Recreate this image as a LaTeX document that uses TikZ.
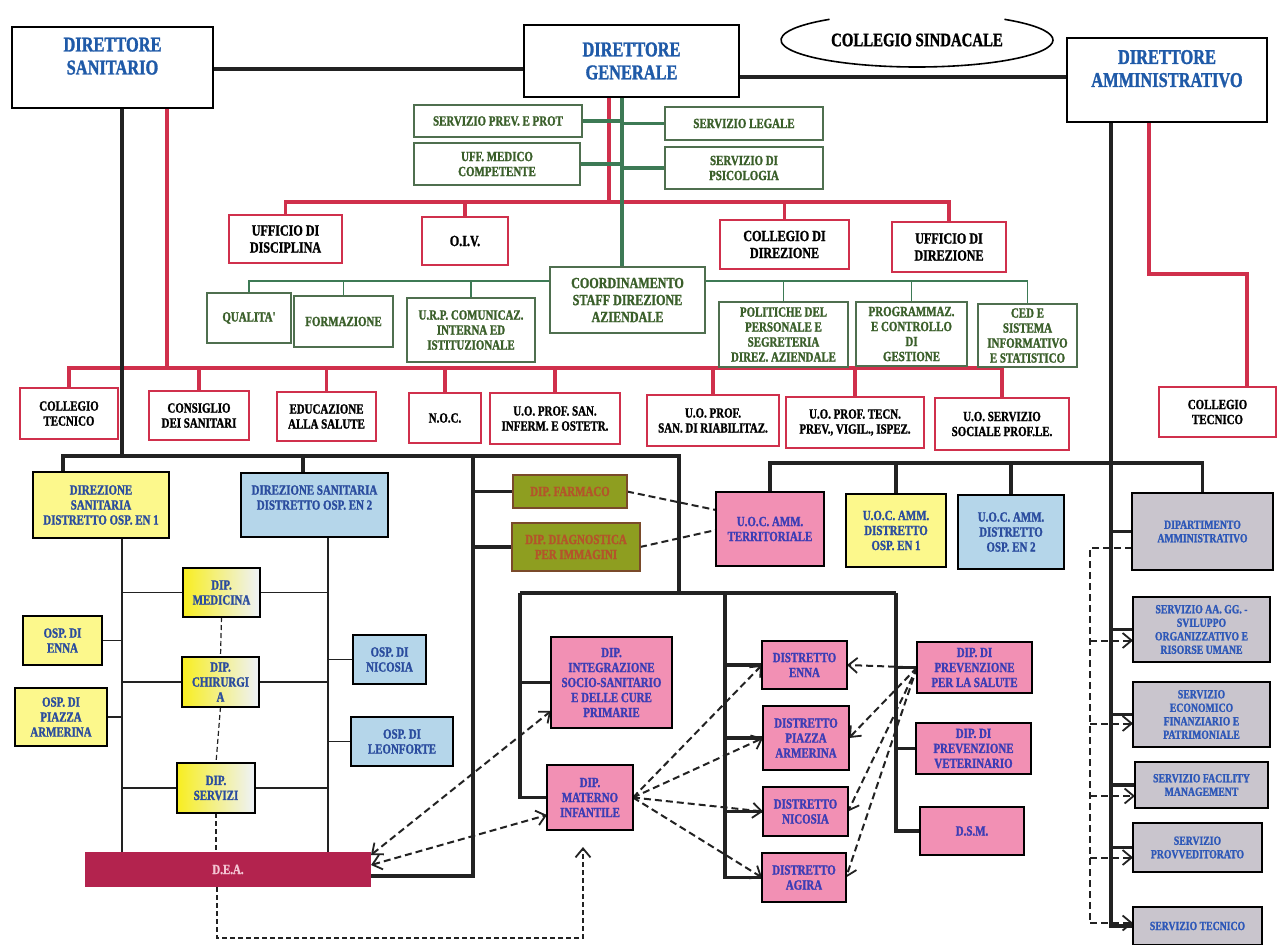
\documentclass[tikz,border=0pt]{standalone}
\usepackage{fontspec}
\setmainfont{Liberation Serif}
\newfontfamily\bff{Liberation Serif Bold}[FakeStretch=0.78,FakeBold=1.4]
\usetikzlibrary{arrows.meta,backgrounds}
\definecolor{dblue}{HTML}{1F5AA8}
\definecolor{rline}{HTML}{D0304C}
\definecolor{gline}{HTML}{3D7A55}
\definecolor{gtext}{HTML}{3A5F2A}
\definecolor{gbord}{HTML}{4F6F4F}
\definecolor{cyel}{HTML}{FCF88C}
\definecolor{clblue}{HTML}{B5D6EA}
\definecolor{cpink}{HTML}{F290B4}
\definecolor{ptext}{HTML}{3B3DB5}
\definecolor{colive}{HTML}{8E9E20}
\definecolor{otext}{HTML}{B4542A}
\definecolor{cbrown}{HTML}{7A4A2A}
\definecolor{cgrey}{HTML}{C9C5CD}
\definecolor{gtextb}{HTML}{2E58B8}
\definecolor{btext}{HTML}{2A4C9E}
\definecolor{cdea}{HTML}{B3234E}
\definecolor{deatext}{HTML}{F4C6D4}
\definecolor{bline}{HTML}{222222}
\definecolor{gyel}{HTML}{F8EE20}
\definecolor{gwhite}{HTML}{EEF2FA}
\newcommand\fsA{\bff\fontsize{21}{23}\selectfont}
\newcommand\fsB{\bff\fontsize{19}{21}\selectfont}
\newcommand\fsC{\bff\fontsize{15.5}{17}\selectfont}
\newcommand\fsD{\bff\fontsize{14}{15}\selectfont}
\newcommand\fsE{\bff\fontsize{12.5}{13.5}\selectfont}
\newcommand\bx[7]{\node[#2,minimum width={#5-#3},minimum height={#6-#4}] (#1) at ({(#3+#5)/2},{(#4+#6)/2}) {#7};}
\tikzset{
 bxbase/.style={draw, line width=1.1pt, inner sep=1pt, outer sep=0pt, align=center, fill=white, font=\fsD},
 dirb/.style={bxbase, draw=black, line width=1.8pt, text=dblue, font=\fsA},
 grb/.style={bxbase, draw=gbord, text=gtext},
 grbig/.style={grb, font=\fsC},
 rdb/.style={bxbase, draw=rline, text=black},
 rdbig/.style={rdb, font=\fsC},
 yeb/.style={bxbase, draw=black, fill=cyel, text=btext},
 lbb/.style={bxbase, draw=black, fill=clblue, text=btext},
 gdb/.style={bxbase, draw=black, left color=gyel, right color=gwhite, text=btext},
 pkb/.style={bxbase, draw=black, fill=cpink, text=ptext},
 olb/.style={bxbase, draw=cbrown, fill=colive, text=otext},
 gyb/.style={bxbase, draw=black, fill=cgrey, text=gtextb, font=\fsE},
 deab/.style={bxbase, draw=none, fill=cdea, text=deatext},
 blk/.style={draw=bline, line width=3.5pt},
 blm/.style={draw=bline, line width=2.4pt},
 blt/.style={draw=bline, line width=1.6pt},
 rdl/.style={draw=rline, line width=3.5pt},
 gnl/.style={draw=gline, line width=3.5pt},
 gnt/.style={draw=gline, line width=1.6pt},
 dsh/.style={draw=bline, line width=2pt, dash pattern=on 7pt off 4pt},
 dst/.style={draw=bline, line width=1.2pt, dash pattern=on 5pt off 3pt},
 arr/.style={-{Straight Barb[length=9pt,width=15pt,line width=1.8pt]}},
 arrb/.style={{Straight Barb[length=9pt,width=15pt,line width=1.8pt]}-{Straight Barb[length=9pt,width=15pt,line width=1.8pt]}},
}
\begin{document}
\begin{tikzpicture}[x=1pt,y=-1pt]
\useasboundingbox (0,0) rectangle (1278,945);
% ---------- top level
\bx{ds}{dirb}{12}{27}{213}{108}{DIRETTORE\\SANITARIO\\\mbox{}}
\bx{dg}{dirb}{524}{25}{739}{97}{DIRETTORE\\GENERALE}
\bx{da}{dirb}{1067}{38}{1267}{122}{DIRETTORE\\AMMINISTRATIVO\\\mbox{}}
\node[font=\fsB, inner sep=0pt] (cs) at (917,40) {COLLEGIO SINDACALE};
% ---------- staff of DG
\bx{spp}{grb}{414}{105}{582}{137}{SERVIZIO PREV. E PROT}
\bx{umc}{grb}{414}{143}{580}{185}{UFF. MEDICO\\COMPETENTE}
\bx{sl}{grb}{665}{107}{823}{140}{SERVIZIO LEGALE}
\bx{sp}{grb}{665}{147}{823}{189}{SERVIZIO DI\\PSICOLOGIA}
\bx{udisc}{rdbig}{229}{215}{342}{263}{UFFICIO DI\\DISCIPLINA}
\bx{oiv}{rdbig}{422}{217}{508}{265}{O.I.V.}
\bx{cdir}{rdbig}{720}{220}{849}{269}{COLLEGIO DI\\DIREZIONE}
\bx{udir}{rdbig}{892}{222}{1006}{272}{UFFICIO DI\\DIREZIONE}
\bx{coord}{grbig}{550}{267}{705}{333}{COORDINAMENTO\\STAFF DIREZIONE\\AZIENDALE}
\bx{qual}{grb}{207}{293}{291}{343}{QUALITA'}
\bx{form}{grb}{294}{296}{393}{347}{FORMAZIONE}
\bx{urp}{grb}{407}{298}{535}{362}{U.R.P. COMUNICAZ.\\INTERNA ED\\ISTITUZIONALE}
\bx{pol}{grb}{719}{302}{848}{367}{POLITICHE DEL\\PERSONALE E\\SEGRETERIA\\DIREZ. AZIENDALE}
\bx{prog}{grb}{856}{302}{967}{366}{PROGRAMMAZ.\\E CONTROLLO\\DI\\GESTIONE}
\bx{ced}{grb}{978}{304}{1077}{367}{CED E\\SISTEMA\\INFORMATIVO\\E STATISTICO}
% ---------- red row
\bx{ctl}{rdb}{20}{388}{118}{439}{COLLEGIO\\TECNICO}
\bx{cons}{rdb}{149}{391}{249}{440}{CONSIGLIO\\DEI SANITARI}
\bx{edu}{rdb}{277}{392}{376}{441}{EDUCAZIONE\\ALLA SALUTE}
\bx{noc}{rdb}{409}{393}{481}{443}{N.O.C.}
\bx{uoinf}{rdb}{490}{393}{620}{444}{U.O. PROF. SAN.\\INFERM. E OSTETR.}
\bx{uoriab}{rdb}{647}{395}{779}{446}{U.O. PROF.\\SAN. DI RIABILITAZ.}
\bx{uotec}{rdb}{786}{397}{924}{448}{U.O. PROF. TECN.\\PREV., VIGIL., ISPEZ.}
\bx{uosoc}{rdb}{935}{398}{1069}{450}{U.O. SERVIZIO\\SOCIALE PROF.LE.}
\bx{ctr}{rdb}{1159}{387}{1276}{437}{COLLEGIO\\TECNICO}
% ---------- left section
\bx{dsd1}{yeb}{33}{472}{169}{538}{DIREZIONE\\SANITARIA\\DISTRETTO OSP. EN 1}
\bx{dsd2}{lbb}{241}{473}{388}{537}{DIREZIONE SANITARIA\\DISTRETTO OSP. EN 2\\\mbox{}}
\bx{med}{gdb}{183}{568}{260}{617}{DIP.\\MEDICINA}
\bx{chir}{gdb}{182}{657}{259}{707}{DIP.\\CHIRURGI\\A}
\bx{serv}{gdb}{177}{763}{255}{813}{DIP.\\SERVIZI}
\bx{ospe}{yeb}{23}{616}{102}{665}{OSP. DI\\ENNA}
\bx{ospp}{yeb}{15}{688}{107}{746}{OSP. DI\\PIAZZA\\ARMERINA}
\bx{ospn}{lbb}{353}{635}{426}{684}{OSP. DI\\NICOSIA}
\bx{ospl}{lbb}{351}{717}{453}{766}{OSP. DI\\LEONFORTE}
\bx{dea}{deab}{85}{852}{371}{887}{D.E.A.}
% ---------- middle section
\bx{farm}{olb}{513}{475}{627}{508}{DIP. FARMACO}
\bx{diag}{olb}{512}{523}{640}{571}{DIP. DIAGNOSTICA\\PER IMMAGINI}
\bx{integr}{pkb}{551}{637}{672}{728}{DIP.\\INTEGRAZIONE\\SOCIO-SANITARIO\\E DELLE CURE\\PRIMARIE}
\bx{mat}{pkb}{547}{765}{633}{830}{DIP.\\MATERNO\\INFANTILE}
\bx{den}{pkb}{762}{641}{847}{689}{DISTRETTO\\ENNA}
\bx{dpa}{pkb}{763}{706}{849}{770}{DISTRETTO\\PIAZZA\\ARMERINA}
\bx{dni}{pkb}{763}{787}{848}{836}{DISTRETTO\\NICOSIA}
\bx{dag}{pkb}{762}{853}{846}{902}{DISTRETTO\\AGIRA}
\bx{prev}{pkb}{917}{642}{1032}{693}{DIP. DI\\PREVENZIONE\\PER LA SALUTE}
\bx{vet}{pkb}{916}{723}{1031}{774}{DIP. DI\\PREVENZIONE\\VETERINARIO}
\bx{dsm}{pkb}{920}{807}{1024}{855}{D.S.M.}
% ---------- right section
\bx{uoct}{pkb}{716}{492}{824}{566}{U.O.C. AMM.\\TERRITORIALE}
\bx{en1}{yeb}{846}{494}{946}{567}{U.O.C. AMM.\\DISTRETTO\\OSP. EN 1}
\bx{en2}{lbb}{958}{495}{1064}{569}{U.O.C. AMM.\\DISTRETTO\\OSP. EN 2}
\bx{dipamm}{gyb}{1132}{493}{1273}{570}{DIPARTIMENTO\\AMMINISTRATIVO}
\bx{saagg}{gyb}{1133}{597}{1270}{662}{SERVIZIO AA. GG. -\\SVILUPPO\\ORGANIZZATIVO E\\RISORSE UMANE}
\bx{seco}{gyb}{1133}{682}{1270}{747}{SERVIZIO\\ECONOMICO\\FINANZIARIO E\\PATRIMONIALE}
\bx{sfac}{gyb}{1135}{762}{1268}{808}{SERVIZIO FACILITY\\MANAGEMENT}
\bx{sprov}{gyb}{1133}{823}{1262}{872}{SERVIZIO\\PROVVEDITORATO}
\bx{stec}{gyb}{1133}{907}{1262}{945}{SERVIZIO TECNICO}
% ---------- connectors
\begin{pgfonlayer}{background}
\fill[white] (0,0) rectangle (1278,945);
\coordinate (yl) at (0,69);
\coordinate (yr) at (0,77);
\coordinate (r1) at (609,202);
\coordinate (g1) at (622,0);
\coordinate (gh) at (0,281);
\coordinate (rh) at (0,368);
\coordinate (dsr) at (167,0);
\coordinate (dsb) at (122,0);
\coordinate (dar) at (1149,0);
\coordinate (dab) at (1111,0);
\coordinate (rt) at (1247,274);
\coordinate (bh) at (0,456);
\coordinate (d1x) at (63,0);
\coordinate (d2x) at (303,0);
\coordinate (mx) at (679,593);
\coordinate (vx) at (473,0);
\coordinate (ydea) at (0,876);
\coordinate (lx) at (122,0);
\coordinate (rx) at (328,0);
\coordinate (m1) at (520,593);
\coordinate (m2) at (725,593);
\coordinate (m3) at (896,593);
\coordinate (ah) at (0,463);
\coordinate (ax) at (1090,0);
\coordinate (dxb) at (217,938);
\coordinate (uxb) at (583,938);
\coordinate (uxt) at (583,847);
\coordinate (y548) at (0,548);
\coordinate (ya) at (0,855);
\coordinate (yb) at (0,865);
\coordinate (yc) at (0,711);
\coordinate (yd) at (0,815);
\coordinate (ye) at (0,510);
\coordinate (yf) at (0,530);
% ellipse of collegio sindacale
\draw[line width=1.6pt] (cs.center) ++(310:136 and 27) arc[start angle=310, end angle=590, x radius=136, y radius=27];
% directors line
\draw[blk] (ds.east |- yl) -- (dg.west |- yl);
\draw[blk] (dg.east |- yr) -- (da.west |- yr);
% red from DG
\draw[rdl] (r1 |- dg.south) -- (r1);
\draw[rdl] (udisc.north) -- (udisc.north |- r1) -- (udir.north |- r1) -- (udir.north);
\draw[rdl] (oiv.north) -- (oiv.north |- r1);
\draw[rdl] (cdir.north) -- (cdir.north |- r1);
% green from DG
\draw[gnl] (g1 |- dg.south) -- (g1 |- coord.north);
\draw[gnl] (spp.east) -- (spp.east -| g1);
\draw[gnl] (umc.east) -- (umc.east -| g1);
\draw[gnl] (sl.west) -- (sl.west -| g1);
\draw[gnl] (sp.west) -- (sp.west -| g1);
% staff bus
\draw[gnt] (qual.north) -- (qual.north |- gh) -- (coord.west |- gh);
\draw[gnt] (form.north) -- (form.north |- gh);
\draw[gnt] (urp.north) -- (urp.north |- gh);
\draw[gnt] (coord.east |- gh) -- (ced.north |- gh) -- (ced.north);
\draw[gnt] (pol.north) -- (pol.north |- gh);
\draw[gnt] (prog.north) -- (prog.north |- gh);
% red bus from DS
\draw[rdl] (dsr |- ds.south) -- (dsr |- rh);
\draw[rdl] (ctl.north) -- (ctl.north |- rh) -- (uosoc.north |- rh) -- (uosoc.north);
\draw[rdl] (cons.north) -- (cons.north |- rh);
\draw[rdl] (edu.north) -- (edu.north |- rh);
\draw[rdl] (noc.north) -- (noc.north |- rh);
\draw[rdl] (uoinf.north) -- (uoinf.north |- rh);
\draw[rdl] (uoriab.north) -- (uoriab.north |- rh);
\draw[rdl] (uotec.north) -- (uotec.north |- rh);
% red from DA
\draw[rdl] (dar |- da.south) -- (dar |- rt) -- (rt) -- (rt |- ctr.north);
% black from DS
\draw[blk] (dsb |- ds.south) -- (dsb |- bh);
\draw[blk] (d1x |- dsd1.north) -- (d1x |- bh) -- (mx |- bh) -- (mx);
\draw[blk] (d2x |- dsd2.north) -- (d2x |- bh);
\draw[blk] (vx |- bh) -- (vx |- ydea) -- (dea.east |- ydea);
\draw[blk] (vx |- farm.west) -- (farm.west);
\draw[blk] (vx |- diag.west) -- (diag.west);
% left section
\draw[blm] (lx |- dsd1.south) -- (lx |- dea.north);
\draw[blm] (rx |- dsd2.south) -- (rx |- dea.north);
\draw[blt] (med.west) -- (med.west -| lx);
\draw[blt] (med.east) -- (med.east -| rx);
\draw[blt] (chir.west) -- (chir.west -| lx);
\draw[blt] (chir.east) -- (chir.east -| rx);
\draw[blt] (serv.west) -- (serv.west -| lx);
\draw[blt] (serv.east) -- (serv.east -| rx);
\draw[blt] (ospe.east) -- (ospe.east -| lx);
\draw[blt] (ospp.east) -- (ospp.east -| lx);
\draw[blt] (ospn.west) -- (ospn.west -| rx);
\draw[blt] (ospl.west) -- (ospl.west -| rx);
\draw[dst] (med.south) -- (chir.north);
\draw[dst] (chir.south) -- (serv.north);
\draw[dst] (serv.south) -- (serv.south |- dea.north);
\draw[dst,arr] (dxb |- dea.south) -- (dxb) -- (uxb) -- (uxt);
% middle section
\draw[blk] (m1) -- (m3);
\draw[blk] (m1) |- (mat.west);
\draw[blk] (m1 |- integr.west) -- (integr.west);
\draw[blk] (m2) |- (dag.west);
\draw[blk] (m2 |- den.west) -- (den.west);
\draw[blk] (m2 |- dpa.west) -- (dpa.west);
\draw[blk] (m2 |- dni.west) -- (dni.west);
\draw[blk] (m3) |- (dsm.west);
\draw[blk] (m3 |- prev.west) -- (prev.west);
\draw[blk] (m3 |- vet.west) -- (vet.west);
% dashed arrows middle
\draw[dsh,arr] (prev.west) -- (den.east);
\draw[dsh,arr] (prev.west) -- (dpa.east);
\draw[dsh,arr] (prev.west) -- (dni.east);
\draw[dsh,arr] (prev.west) -- (dag.east);
\draw[dsh,arr] (mat.east) -- (den.west);
\draw[dsh,arr] (mat.east) -- (dpa.west);
\draw[dsh,arr] (mat.east) -- (dni.west);
\draw[dsh,arr] (mat.east) -- (dag.west);
\draw[dsh,arrb] (dea.east |- ya) -- (integr.west |- yc);
\draw[dsh,arrb] (dea.east |- yb) -- (mat.west |- yd);
\draw[dsh] (farm.east) -- (uoct.west |- ye);
\draw[dsh] (diag.east) -- (uoct.west |- yf);
% right section
\draw[blk] (dab |- da.south) -- (dab |- stec.west) -- (stec.west);
\draw[blk] (uoct.north) -- (uoct.north |- ah) -- (dipamm.north |- ah) -- (dipamm.north);
\draw[blk] (en1.north) -- (en1.north |- ah);
\draw[blk] (en2.north) -- (en2.north |- ah);
\draw[blk] (dab |- dipamm.west) -- (dipamm.west);
\draw[blk] (dab |- saagg.west) -- (saagg.west);
\draw[blk] (dab |- seco.west) -- (seco.west);
\draw[blk] (dab |- sfac.west) -- (sfac.west);
\draw[blk] (dab |- sprov.west) -- (sprov.west);
\coordinate (a1) at ([yshift=-11pt]saagg.west);
\coordinate (a2) at ([yshift=-9pt]seco.west);
\coordinate (a3) at ([yshift=-11pt]sfac.west);
\coordinate (a4) at ([yshift=-10pt]sprov.west);
\coordinate (a5) at ([yshift=3pt]stec.west);
\draw[dsh] (dipamm.west |- y548) -- (ax |- y548) -- (ax |- a5);
\draw[dsh,arr] (ax |- a1) -- (a1);
\draw[dsh,arr] (ax |- a2) -- (a2);
\draw[dsh,arr] (ax |- a3) -- (a3);
\draw[dsh,arr] (ax |- a4) -- (a4);
\draw[dsh,arr] (ax |- a5) -- (a5);
\end{pgfonlayer}
\end{tikzpicture}
\end{document}
